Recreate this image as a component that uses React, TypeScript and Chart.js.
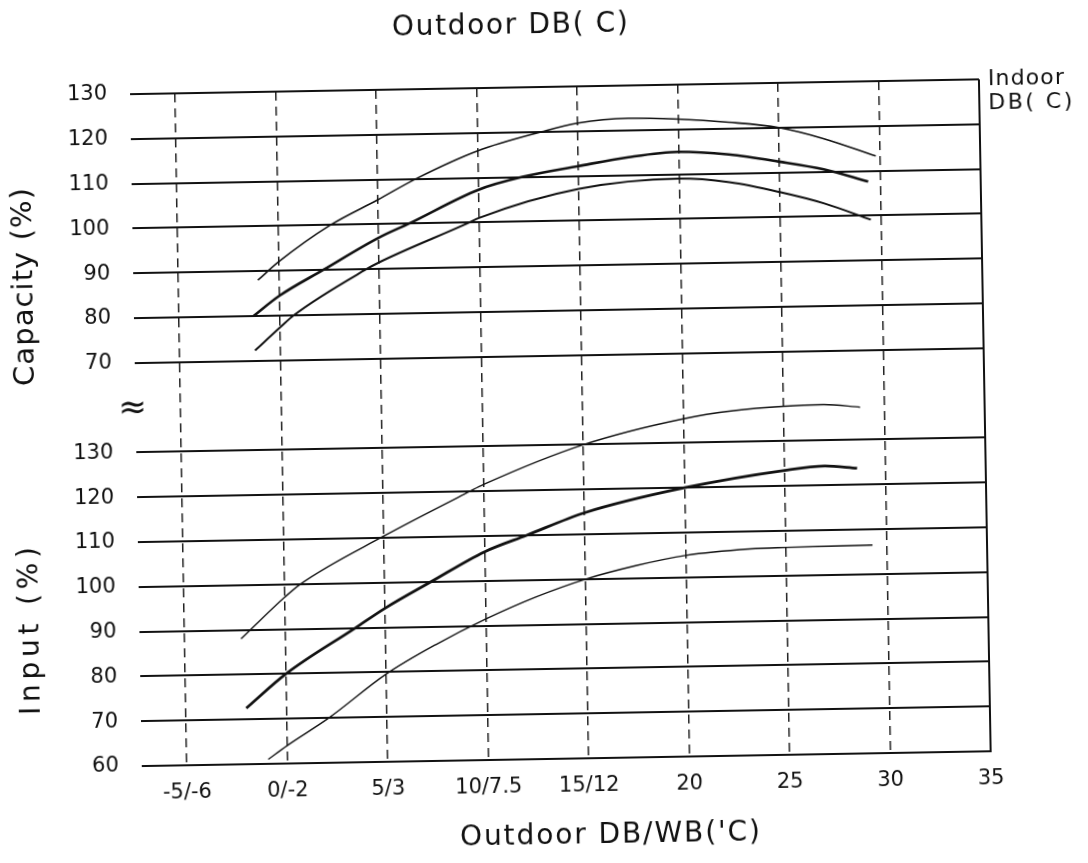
import React, { useEffect, useRef } from "react";
import { Chart, registerables } from "chart.js";

Chart.register(...registerables);

// ---- axis ticks ----
const xTickValues = [-5, 0, 5, 10, 15, 20, 25, 30, 35];
const xTickLabels = ["-5/-6", "0/-2", "5/3", "10/7.5", "15/12", "20", "25", "30", "35"];
const capacityTicks = [70, 80, 90, 100, 110, 120, 130];
const inputTicks = [60, 70, 80, 90, 100, 110, 120, 130];

// ---- Capacity (%) curves ----
const capHighX = [-1.05, 0, 2.6, 5, 6.9, 10, 13.2, 15, 17.5, 20, 22.5, 25, 27.2, 29.8];
const capHighY = [88, 92, 100, 105.5, 110, 116, 120, 121.8, 122.7, 122.3, 121.4, 120, 117.4, 113.3];

const capMidX = [-1.3, 0, 2.2, 5, 6.5, 10, 12.2, 15, 17.5, 20, 22.5, 25, 27.2, 29.4];
const capMidY = [80, 84.4, 90, 97, 100, 107.3, 110, 112.2, 114, 115, 114.2, 112.4, 110.5, 107.6];

const capLowX = [-1.25, 0, 0.7, 4.35, 5, 9.5, 10, 15, 20, 22.5, 25, 27.2, 29.5];
const capLowY = [72.3, 77.3, 80, 90, 91.5, 100, 101, 107.1, 109, 108, 105.6, 102.9, 99.1];

// ---- Input (%) curves ----
const inHighX = [-2.2, 0, 0.8, 5, 9.3, 10, 15, 20, 22.5, 25, 27, 28.8];
const inHighY = [88, 97.1, 100, 110.4, 120, 121.5, 130, 135.4, 137, 137.8, 138, 137.3];

const inMidX = [-2.0, 0, 3.5, 5, 7.3, 10, 12.1, 15, 20, 25, 27, 28.6];
const inMidY = [72.5, 80, 90, 94.3, 100, 106.5, 110, 114.8, 120, 123.5, 124.3, 123.7];

const inLowX = [-0.95, 0, 2.1, 5, 7.5, 10, 12.5, 15, 17.5, 20, 23.2, 25, 29.3];
const inLowY = [61, 64, 70, 79.6, 86, 91.5, 96.2, 100, 102.8, 104.9, 106.1, 106.3, 106.5];

// the two panels share one vertical scale: input 60..130 -> 0..70, capacity 70..130 -> 90..150
const INPUT_SHIFT = -60;
const CAP_SHIFT = 20;
const BREAK_POS = 80;

const FONT = "'DejaVu Sans', 'Liberation Sans', sans-serif";
const INK = "#111";

function drawSpaced(ctx: CanvasRenderingContext2D, text: string, cx: number, cy: number, font: string, target: number, angle: number) {
  ctx.save();
  ctx.translate(cx, cy);
  ctx.rotate(angle);
  ctx.font = font;
  ctx.fillStyle = INK;
  ctx.textBaseline = "middle";
  ctx.textAlign = "left";
  const chars = Array.from(text);
  const widths = chars.map((c) => ctx.measureText(c).width);
  const natural = widths.reduce((a, b) => a + b, 0);
  const gap = chars.length > 1 ? (target - natural) / (chars.length - 1) : 0;
  let x = -target / 2;
  chars.forEach((c, i) => {
    ctx.fillText(c, x, 0);
    x += widths[i] + gap;
  });
  ctx.restore();
}

const decorPlugin = {
  id: "decor",
  afterDraw(chart: any) {
    const { ctx, chartArea } = chart;
    const { left, right, top, bottom } = chartArea;
    ctx.save();
    ctx.strokeStyle = INK;
    ctx.lineWidth = 2;
    ctx.setLineDash([]);
    ctx.beginPath();
    ctx.moveTo(right, top);
    ctx.lineTo(right, bottom);
    ctx.lineTo(left, bottom);
    ctx.stroke();
    ctx.restore();

    const yScale = chart.scales.y;
    const breakY = yScale.getPixelForValue(BREAK_POS);
    ctx.save();
    ctx.font = `34px ${FONT}`;
    ctx.fillStyle = INK;
    ctx.textAlign = "center";
    ctx.textBaseline = "middle";
    ctx.fillText("\u2248", left - 3, breakY + 2);
    ctx.restore();

    drawSpaced(ctx, "Outdoor DB( C)", 517, 26, `28px ${FONT}`, 236, 0);
    drawSpaced(ctx, "Outdoor DB/WB('C)", 603, 837, `28px ${FONT}`, 300, 0);
    drawSpaced(ctx, "Capacity (%)", 27, 278, `29px ${FONT}`, 198, -Math.PI / 2);
    drawSpaced(ctx, "Input (%)", 28, 622, `28px ${FONT}`, 168, -Math.PI / 2);
    drawSpaced(ctx, "Indoor", 994 + 38, 87, `22px ${FONT}`, 76, 0);
    drawSpaced(ctx, "DB( C)", 994 + 42, 111, `22px ${FONT}`, 84, 0);
  },
};

function series(xs: number[], ys: number[], shift: number, width: number) {
  return {
    data: xs.map((x, i) => ({ x, y: ys[i] + shift })),
    borderColor: INK,
    borderWidth: width,
    pointRadius: 0,
    fill: false,
    cubicInterpolationMode: "monotone" as const,
  };
}

export default function App() {
  const canvasRef = useRef<HTMLCanvasElement | null>(null);

  useEffect(() => {
    const canvas = canvasRef.current;
    if (!canvas) return;

    const yLabel = new Map<number, string>();
    inputTicks.forEach((v) => yLabel.set(v + INPUT_SHIFT, String(v)));
    capacityTicks.forEach((v) => yLabel.set(v + CAP_SHIFT, String(v)));
    const yPositions = Array.from(yLabel.keys()).concat([BREAK_POS]).sort((a, b) => a - b);

    const chart = new Chart(canvas, {
      type: "line",
      data: {
        datasets: [
          series(capHighX, capHighY, CAP_SHIFT, 1.6),
          series(capMidX, capMidY, CAP_SHIFT, 2.6),
          series(capLowX, capLowY, CAP_SHIFT, 2),
          series(inHighX, inHighY, INPUT_SHIFT, 1.4),
          series(inMidX, inMidY, INPUT_SHIFT, 2.8),
          series(inLowX, inLowY, INPUT_SHIFT, 1.4),
        ],
      },
      options: {
        animation: false,
        responsive: false,
        devicePixelRatio: 1,
        events: [],
        layout: { padding: { top: 87, right: 103, bottom: 0, left: 0 } },
        plugins: { legend: { display: false }, tooltip: { enabled: false }, title: { display: false } },
        scales: {
          x: {
            type: "linear",
            min: -7.25,
            max: 35,
            afterBuildTicks: (s: any) => {
              s.ticks = xTickValues.map((value) => ({ value }));
            },
            afterFit: (s: any) => {
              s.height = 104;
            },
            ticks: {
              autoSkip: false,
              maxRotation: 0,
              padding: 15,
              color: INK,
              font: { family: FONT, size: 21 },
              callback: (v: any) => {
                const i = xTickValues.indexOf(Number(v));
                return i >= 0 ? xTickLabels[i] : "";
              },
            },
            grid: {
              drawTicks: false,
              lineWidth: 1.5,
              color: (c: any) => (c.tick && c.tick.value === 35 ? "rgba(0,0,0,0)" : "#222"),
            },
            border: { display: false, dash: [9, 6] },
          },
          y: {
            type: "linear",
            min: 0,
            max: 150,
            afterBuildTicks: (s: any) => {
              s.ticks = yPositions.map((value) => ({ value }));
            },
            afterFit: (s: any) => {
              s.width = 136;
            },
            ticks: {
              autoSkip: false,
              padding: 23,
              color: INK,
              font: { family: FONT, size: 21 },
              callback: (v: any) => yLabel.get(Number(v)) ?? "",
            },
            grid: {
              drawTicks: false,
              lineWidth: 2,
              color: (c: any) => (c.tick && c.tick.value === BREAK_POS ? "rgba(0,0,0,0)" : INK),
            },
            border: { display: false },
          },
        },
      },
      plugins: [decorPlugin],
    } as any);

    return () => chart.destroy();
  }, []);

  return (
    <div
      style={{
        position: "absolute",
        left: 0,
        top: 0,
        width: 1088,
        height: 863,
        background: "#fff",
        transform: "rotate(-1deg)",
        transformOrigin: "544px 431.5px",
      }}
    >
      <canvas ref={canvasRef} width={1088} height={863} style={{ display: "block", width: 1088, height: 863 }} />
    </div>
  );
}
